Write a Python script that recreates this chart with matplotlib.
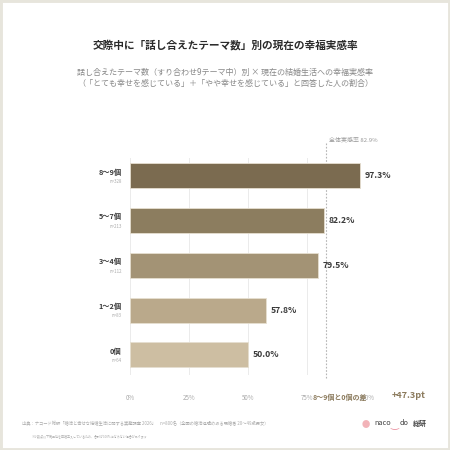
import numpy as np
import matplotlib.pyplot as plt
from matplotlib.patches import Rectangle

plt.rcParams['font.family'] = ['Noto Sans CJK JP', 'DejaVu Sans']

# data
groups = ['8〜9個', '5〜7個', '3〜4個', '1〜2個', '0個']
counts = ['n=328', 'n=213', 'n=112', 'n=83', 'n=64']
rates = [97.3, 82.2, 79.5, 57.8, 50.0]
overall = 82.9
diff_label = '+47.3pt'
ticks = [0, 25, 50, 75, 100]
colors = ['#7b6b50', '#8c7d5f', '#a39375', '#baa98b', '#cdbea2']

fig = plt.figure(figsize=(4.5, 4.5), dpi=100)
fig.patch.set_facecolor('white')

# frame around the card
fig.patches.append(Rectangle((0, 0), 1, 1, transform=fig.transFigure,
                             fill=False, edgecolor='#e7e5dc', linewidth=3.5))

ax = fig.add_axes([130 / 450, 1 - 375 / 450, 236 / 450, 217 / 450])
y = np.arange(len(groups))
ax.barh(y, rates, height=0.56, color=colors, edgecolor='#e6dfd0',
        linewidth=0.6, zorder=3)
ax.set_xlim(0, 100)
ax.set_ylim(4.45, -0.40)

for t in ticks:
    ax.axvline(t, color='#ebebeb', linewidth=0.7, zorder=1)
ax.axvline(overall, ymin=-0.014, ymax=1.07, color='#b5b5b5', linewidth=0.8,
           linestyle=(0, (1.5, 1.5)), clip_on=False, zorder=2)
ax.text(overall + 1.5, 1.083, f'全体実感率 {overall}%', transform=ax.get_xaxis_transform(),
        fontsize=4.3, color='#999999', ha='left', va='center')

for i, v in enumerate(rates):
    ax.text(v + 2, i, f'{v:.1f}%', fontsize=6.2, fontweight='bold',
            color='#3a3a3a', va='center', ha='left')
    ax.text(-3.5, i - 0.09, groups[i], fontsize=5.2, fontweight='bold',
            color='#3a3a3a', ha='right', va='center')
    ax.text(-3.5, i + 0.13, counts[i], fontsize=3.2, color='#aaaaaa',
            ha='right', va='center')

for s in ax.spines.values():
    s.set_visible(False)
ax.set_yticks([])
ax.set_xticks(ticks)
ax.set_xticklabels([f'{t}%' for t in ticks])
ax.tick_params(axis='x', length=0, labelsize=4.5, labelcolor='#aaaaaa', pad=14)

fig.text(340 / 450, 1 - 397 / 450, '8〜9個と0個の差', fontsize=5.0,
         fontweight='bold', color='#8b7a5c', ha='center', va='center')
fig.text(409 / 450, 1 - 396 / 450, diff_label, fontsize=6.5, fontweight='bold',
         color='#8b7a5c', ha='center', va='center')

fig.text(0.5, 1 - 45 / 450, '交際中に「話し合えたテーマ数」別の現在の幸福実感率',
         fontsize=7.7, fontweight='bold', color='#2b2b2b', ha='center', va='center')
fig.text(0.5, 1 - 72 / 450, '話し合えたテーマ数（すり合わせ9テーマ中）別 × 現在の結婚生活への幸福実感率',
         fontsize=5.8, color='#888888', ha='center', va='center')
fig.text(0.5, 1 - 83 / 450, '（「とても幸せを感じている」＋「やや幸せを感じている」と回答した人の割合）',
         fontsize=5.8, color='#888888', ha='center', va='center')

fig.text(22 / 450, 1 - 423 / 450,
         '出典：ナコード総研「婚活と幸せな結婚生活に関する実態調査 2026」　n=800名（全国の婚活経験のある既婚者 20〜49歳男女）',
         fontsize=3.1, color='#aaaaaa', ha='left', va='center')
fig.text(32 / 450, 1 - 437 / 450,
         '※小数点以下第二位を四捨五入しているため、合計が100%にならない場合があります',
         fontsize=2.2, color='#aaaaaa', ha='left', va='center')

# logo
fig.text(366 / 450, 1 - 424 / 450, '●', fontsize=6, color='#f2b3b8', ha='center', va='center')
fig.text(374 / 450, 1 - 423 / 450, 'naco', fontsize=5.3, color='#444444', ha='left', va='center')
fig.text(390 / 450, 1 - 424 / 450, '‿', fontsize=7, color='#e88a99', ha='left', va='center')
fig.text(400 / 450, 1 - 423 / 450, 'do', fontsize=5.3, color='#444444', ha='left', va='center')
fig.text(413 / 450, 1 - 423 / 450, '総研', fontsize=5.0, fontweight='bold', color='#444444',
         ha='left', va='center')

fig.savefig('out.png', dpi=100)
